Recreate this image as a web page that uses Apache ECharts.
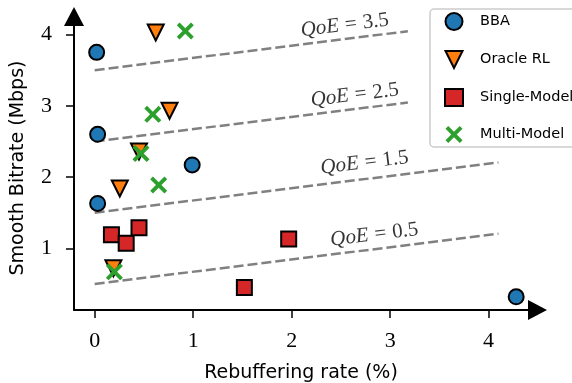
<!DOCTYPE html>
<html>
<head>
<meta charset="utf-8">
<script src="https://cdn.jsdelivr.net/npm/echarts@6/dist/echarts.min.js"></script>
<style>
html, body { margin: 0; padding: 0; background: #fff; }
#container { width: 572px; height: 383px; }
</style>
</head>
<body>
<div id="container"></div>
<script>
// tick labels
var xTicks = [0, 1, 2, 3, 4];
var yTicks = [1, 2, 3, 4];

// [rebuffering rate (%), smooth bitrate (Mbps)]
var bba = [[0.02, 3.75], [0.03, 2.60], [0.03, 1.63], [0.99, 2.17], [4.28, 0.32]];
var oracleRL = [[0.62, 4.03], [0.76, 2.93], [0.45, 2.36], [0.255, 1.84], [0.19, 0.72]];
var singleModel = [[0.17, 1.19], [0.32, 1.07], [0.45, 1.29], [1.97, 1.13], [1.52, 0.45]];
var multiModel = [[0.92, 4.05], [0.59, 2.88], [0.47, 2.33], [0.65, 1.89], [0.20, 0.67]];

// iso-QoE lines: bitrate = qoe + slope * rebuf
var qoeLevels = [3.5, 2.5, 1.5, 0.5];
var qoeSlope = 0.172;
var qoeLineEnd = [3.18, 3.18, 4.1, 4.1];
var qoeLabelAt = [[2.54, 4.13], [2.64, 3.15], [2.74, 2.20], [2.84, 1.19]];

var dom = document.getElementById("container");
var myChart = echarts.init(dom);

var serif = 'Liberation Serif';
var sans = 'DejaVu Sans';
var crossPath = 'path://M0,1.6 L1.6,0 L5,3.4 L8.4,0 L10,1.6 L6.6,5 L10,8.4 L8.4,10 L5,6.6 L1.6,10 L0,8.4 L3.4,5 Z';
var triDown = 'path://M0,0 L10,0 L5,10 Z';

var series = [];

qoeLevels.forEach(function (q, i) {
    var end = qoeLineEnd[i];
    series.push({
        type: 'line',
        data: [[0, q], [end, q + qoeSlope * end]],
        symbol: 'none',
        silent: true,
        z: 1,
        lineStyle: { color: '#808080', width: 2.5, type: [10, 4] }
    });
    series.push({
        type: 'scatter',
        data: [qoeLabelAt[i]],
        symbolSize: 0,
        silent: true,
        clip: false,
        z: 1,
        label: {
            show: true,
            position: 'inside',
            rotate: 7,
            formatter: '{i|QoE}{e|=}' + q.toFixed(1),
            fontFamily: serif,
            fontSize: 21,
            color: '#000',
            rich: {
                i: { fontFamily: serif, fontStyle: 'italic', fontSize: 21, color: '#000' },
                e: { fontFamily: serif, fontSize: 21, color: '#000', padding: [0, 6, 0, 6] }
            }
        }
    });
});

function markerSeries(name, data, symbol, size, color, outline) {
    return {
        name: name,
        type: 'scatter',
        data: data,
        symbol: symbol,
        symbolSize: size,
        clip: false,
        z: 3,
        itemStyle: outline ? {
            color: color, borderColor: '#000', borderWidth: 2, opacity: 1
        } : { color: color, opacity: 1 }
    };
}

series.push(markerSeries('BBA', bba, 'circle', 15, '#1f77b4', true));
series.push(markerSeries('Oracle RL', oracleRL, triDown, 16, '#ff7f0e', true));
series.push(markerSeries('Single-Model', singleModel, 'rect', 15, '#d62728', true));
series.push(markerSeries('Multi-Model', multiModel, crossPath, 17, '#2ca02c', false));

var option = {
    animation: false,
    backgroundColor: '#fff',
    grid: { left: 74, right: 44, top: 26, bottom: 73, outerBoundsMode: 'none' },
    legend: {
        orient: 'vertical',
        left: 430,
        top: 9,
        padding: [3, 12, 4, 14],
        itemWidth: 18,
        itemHeight: 17,
        itemGap: 19,
        borderColor: '#cccccc',
        borderWidth: 1.5,
        borderRadius: 4,
        backgroundColor: '#fff',
        data: ['BBA', 'Oracle RL', 'Single-Model', 'Multi-Model'],
        textStyle: { fontFamily: sans, fontSize: 14.5, color: '#000', padding: [0, 0, 0, 12] }
    },
    xAxis: {
        type: 'value',
        min: -0.21,
        max: 4.40,
        name: 'Rebuffering rate (%)',
        nameLocation: 'middle',
        nameGap: 54,
        nameTextStyle: { fontFamily: sans, fontSize: 19, color: '#000' },
        splitLine: { show: false },
        axisLine: {
            onZero: false,
            lineStyle: { color: '#000', width: 2 },
            symbol: ['none', 'triangle'],
            symbolSize: [20, 19],
            symbolOffset: [0, 9.5]
        },
        axisTick: { customValues: xTicks, length: 8, lineStyle: { color: '#000', width: 1.5 } },
        axisLabel: { customValues: xTicks, margin: 20, fontFamily: serif, fontSize: 22, color: '#000' }
    },
    yAxis: {
        type: 'value',
        min: 0.135,
        max: 4.12,
        name: 'Smooth Bitrate (Mbps)',
        nameLocation: 'middle',
        nameGap: 46,
        nameTextStyle: { fontFamily: sans, fontSize: 19, color: '#000' },
        splitLine: { show: false },
        axisLine: {
            onZero: false,
            lineStyle: { color: '#000', width: 2 },
            symbol: ['none', 'triangle'],
            symbolSize: [20, 19],
            symbolOffset: [0, 9.5]
        },
        axisTick: { customValues: yTicks, length: 8, lineStyle: { color: '#000', width: 1.5 } },
        axisLabel: { customValues: yTicks, margin: 22, fontFamily: serif, fontSize: 22, color: '#000' }
    },
    series: series
};

if (option && typeof option === "object") {
    myChart.setOption(option, true);
}
</script>
</body>
</html>
